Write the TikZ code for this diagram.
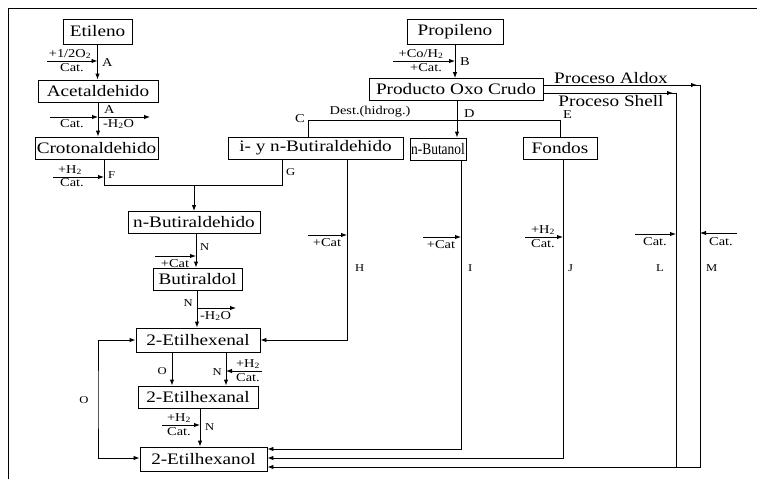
\documentclass[tikz,border=0pt]{standalone}
\usepackage{fontspec}
\setmainfont{Liberation Serif}[FakeStretch=1.2]
\usetikzlibrary{arrows.meta}
\tikzset{
  box/.style={draw, line width=0.9pt, inner sep=0pt, minimum height=22pt, font=\fontsize{16}{18}\selectfont},
  ln/.style={line width=0.9pt},
  arr/.style={ln, -{Latex[length=6pt,width=4.5pt]}},
  ann/.style={font=\fontsize{12}{13}\selectfont, inner sep=0pt},
  bigl/.style={font=\fontsize{12}{13}\selectfont, inner sep=0pt},
  smalll/.style={font=\fontsize{10.5}{11}\selectfont, inner sep=0pt},
  proc/.style={font=\fontsize{16}{18}\selectfont, inner sep=0pt},
}
\begin{document}
\begin{tikzpicture}[x=1pt,y=-1pt]
\useasboundingbox (0,0) rectangle (757,479);
% frame
\draw[ln] (8,479) -- (8,8) -- (757,8);

% boxes
\node[box, minimum width=69pt, minimum height=25pt] (etileno) at (97.5,31.5) {Etileno};
\node[box, minimum width=96pt, minimum height=25pt] (propileno) at (455,31.5) {Propileno};
\node[box, minimum width=120pt] (acet) at (98,91) {Acetaldehido};
\node[box, minimum width=174pt] (oxo) at (456,89.5) {Producto Oxo Crudo};
\node[box, minimum width=123pt] (croton) at (96.5,148) {Crotonaldehido};
\node[box, minimum width=175pt] (iybut) at (315.5,148) {i- y n-Butiraldehido};
\node[box, minimum width=56pt] (nbutanol) at (438,149) {\scalebox{0.7}[1]{n-Butanol}};
\node[box, minimum width=74pt] (fondos) at (560,148) {Fondos};
\node[box, minimum width=132pt] (nbutald) at (194,222.5) {n-Butiraldehido};
\node[box, minimum width=89pt] (butiraldol) at (197.5,279) {Butiraldol};
\node[box, minimum width=124pt, minimum height=24pt] (hexenal) at (198,340) {2-Etilhexenal};
\node[box, minimum width=120pt] (hexanal) at (198,397) {2-Etilhexanal};
\node[box, minimum width=127pt, minimum height=24pt] (hexanol) at (203.5,459) {2-Etilhexanol};

% Etileno -> Acetaldehido
\draw[arr] (etileno.south) -- (etileno.south |- acet.north);
\coordinate (a1s) at (47,61);
\draw[arr] (a1s) -- (etileno.south |- a1s);
\node[ann] at (70,54) {+1/2O\textsubscript{2}};
\node[ann] at (72,68) {Cat.};
\node[bigl, anchor=west] at (102,63) {A};

% Acetaldehido -> Crotonaldehido
\draw[arr] (acet.south) -- (acet.south |- croton.north);
\coordinate (a2s) at (50,117);
\coordinate (a2e) at (150,117);
\draw[arr] (a2s) -- (acet.south |- a2s);
\draw[arr] (acet.south |- a2s) -- (a2e);
\node[bigl, anchor=west] at (104,110) {A};
\node[ann] at (72,124) {Cat.};
\node[ann, anchor=west] at (103,124) {-H\textsubscript{2}O};

% Crotonaldehido / i- y n-Butiraldehido -> n-Butiraldehido
\coordinate (fg1) at (104,185);
\coordinate (fg2) at (282,185);
\draw[ln] (croton.south -| fg1) -- (fg1) -- (fg2) -- (iybut.south -| fg2);
\draw[arr] (nbutald.north |- fg1) -- (nbutald.north);
\coordinate (fs) at (53,177);
\draw[arr] (fs) -- (fg1 |- fs);
\node[ann] at (70,170) {+H\textsubscript{2}};
\node[ann] at (72,183) {Cat.};
\node[smalll, anchor=west] at (108,175) {F};
\node[smalll, anchor=west] at (286,172) {G};

% n-Butiraldehido -> Butiraldol
\coordinate (nx) at (196,0);
\draw[arr] (nbutald.south -| nx) -- (butiraldol.north -| nx);
\coordinate (ns) at (155,256);
\draw[arr] (ns) -- (nx |- ns);
\node[ann] at (175,264) {+Cat};
\node[smalll, anchor=west] at (200,247) {N};

% Butiraldol -> 2-Etilhexenal
\coordinate (bx) at (197,0);
\coordinate (be) at (236,308);
\draw[arr] (butiraldol.south -| bx) -- (hexenal.north -| bx);
\draw[arr] (bx |- be) -- (be);
\node[ann, anchor=west] at (200,316) {-H\textsubscript{2}O};
\node[smalll, anchor=east] at (193,303) {N};

% H : i- y n-Butiraldehido -> 2-Etilhexenal
\coordinate (hx) at (347,0);
\draw[arr] (iybut.south -| hx) |- (hexenal.east);
\coordinate (hs) at (308,235);
\draw[arr] (hs) -- (hx |- hs);
\node[ann] at (327,243) {+Cat};
\node[smalll, anchor=west] at (355,268) {H};

% I : n-Butanol -> 2-Etilhexanol
\coordinate (ix) at (461,449);
\draw[arr] (nbutanol.south -| ix) |- (hexanol.east |- ix);
\coordinate (is) at (423,237);
\draw[arr] (is) -- (ix |- is);
\node[ann] at (441,245) {+Cat};
\node[smalll, anchor=west] at (468,268) {I};

% J : Fondos -> 2-Etilhexanol
\coordinate (jx) at (563,458);
\draw[arr] (fondos.south -| jx) |- (hexanol.east |- jx);
\coordinate (js) at (525,237);
\draw[arr] (js) -- (jx |- js);
\node[ann] at (543,230) {+H\textsubscript{2}};
\node[ann] at (543,244) {Cat.};
\node[smalll, anchor=west] at (568,268) {J};

% L : Proceso Shell
\coordinate (lc) at (676,93);
\coordinate (lb) at (676,467);
\draw[arr] (oxo.east |- lc) -| (lb) -- (hexanol.east |- lb);
\draw[arr] (650,93) -- (673,93);
\coordinate (ls) at (635,234);
\draw[arr] (ls) -- (lc |- ls);
\node[ann] at (655,242) {Cat.};
\node[smalll, anchor=east] at (664,268) {L};
\node[proc] at (611,101) {Proceso Shell};

% M : Proceso Aldox
\coordinate (mc) at (700,85);
\coordinate (mb) at (700,467);
\draw[ln] (oxo.east |- mc) -| (mb) -- (lb);
\draw[arr] (672,85) -- (697,85);
\coordinate (ms) at (737,233);
\draw[arr] (ms) -- (mc |- ms);
\node[ann] at (721,242) {Cat.};
\node[smalll, anchor=west] at (706,268) {M};
\node[proc] at (611,78) {Proceso Aldox};

% 2-Etilhexenal -> 2-Etilhexanal
\coordinate (ox) at (172,0);
\coordinate (nx2) at (226,371);
\draw[arr] (hexenal.south -| ox) -- (hexanal.north -| ox);
\draw[arr] (hexenal.south -| nx2) -- (hexanal.north -| nx2);
\draw[arr] (262,371) -- (nx2);
\node[ann] at (248,364) {+H\textsubscript{2}};
\node[ann] at (248,378) {Cat.};
\node[smalll, anchor=east] at (167,371) {O};
\node[smalll, anchor=east] at (222,372) {N};

% 2-Etilhexanal -> 2-Etilhexanol
\coordinate (n3) at (200,425);
\draw[arr] (hexanal.south -| n3) -- (hexanol.north -| n3);
\draw[arr] (162,425) -- (n3);
\node[ann] at (179,418) {+H\textsubscript{2}};
\node[ann] at (179,432) {Cat.};
\node[smalll, anchor=west] at (205,427) {N};

% O loop
\coordinate (oc) at (98,400);
\coordinate (ob) at (98,458);
\draw[ln, {Latex[length=6pt,width=4.5pt]}-{Latex[length=6pt,width=4.5pt]}] (hexenal.west) -| (oc) |- (hexanol.west |- ob);
\node[smalll] at (84,400) {O};

% Propileno -> Producto Oxo Crudo
\draw[arr] (propileno.south) -- (propileno.south |- oxo.north);
\coordinate (bs) at (393,61);
\draw[arr] (bs) -- (propileno.south |- bs);
\node[ann] at (421,54) {+Co/H\textsubscript{2}};
\node[ann] at (426,68) {+Cat.};
\node[bigl, anchor=west] at (460,62) {B};

% Producto Oxo Crudo -> n-Butanol, distribution
\coordinate (dx) at (457,0);
\draw[arr] (oxo.south -| dx) -- (nbutanol.north -| dx);
\coordinate (cc) at (308,120);
\coordinate (ec) at (560,120);
\draw[ln] (iybut.north -| cc) -- (cc) -- (ec) -- (fondos.north -| ec);
\node[bigl, anchor=east] at (305,119) {C};
\node[ann] at (370,112) {Dest.(hidrog.)};
\node[bigl, anchor=west] at (464,114) {D};
\node[bigl, anchor=west] at (563,115) {E};
\end{tikzpicture}
\end{document}
